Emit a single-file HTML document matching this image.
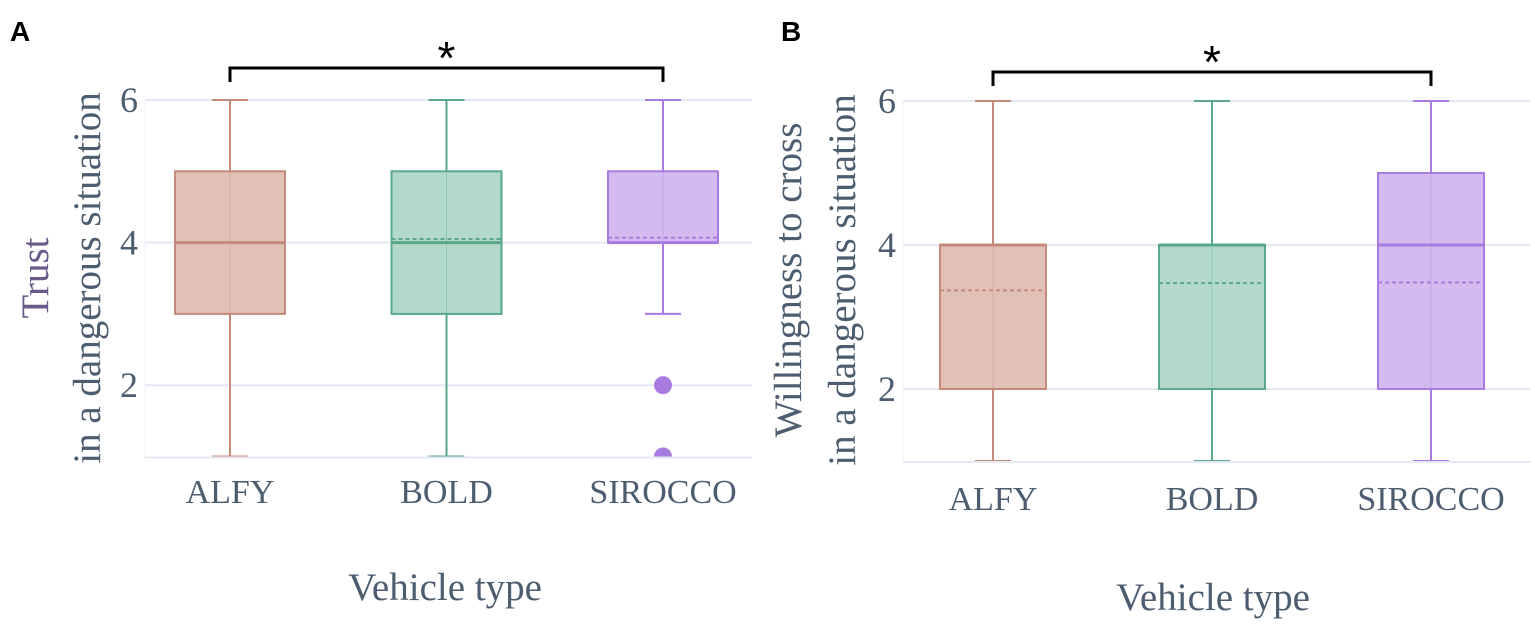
<!DOCTYPE html>
<html><head><meta charset="utf-8"><style>
body{margin:0;background:#fff;}
svg{display:block;font-family:"Liberation Serif",serif;}
</style></head><body>
<svg id="c" width="1535" height="630" viewBox="0 0 1535 630"></svg>
<script>
const categories = ["ALFY","BOLD","SIROCCO"];
const yTicks = [2,4,6];
// panel A: Trust
const aMin = [1,1,3];
const aQ1 = [3,3,4];
const aMedian = [4,4,4];
const aQ3 = [5,5,5];
const aMax = [6,6,6];
const aMean = [4.0,4.05,4.07];
const aOutliers = [[],[],[2,1]];
// panel B: Willingness
const bMin = [1,1,1];
const bQ1 = [2,2,2];
const bMedian = [4,4,4];
const bQ3 = [4,4,5];
const bMax = [6,6,6];
const bMean = [3.37,3.47,3.48];
const bOutliers = [[],[],[]];

const fills=["rgba(196,130,112,0.5)","rgba(96,176,146,0.48)","rgba(168,120,226,0.5)"];
const strokes=["#c48a7a","#5aa88a","#a77be0"];
const NS="http://www.w3.org/2000/svg";
const svg=document.getElementById('c');
function mk(tag,attrs,parent,text){const e=document.createElementNS(NS,tag);for(const k in attrs)e.setAttribute(k,attrs[k]);if(text!==undefined)e.textContent=text;(parent||svg).appendChild(e);return e;}

function panel(p){
  const g=mk('g',{});
  
  
  const y=v=>p.y6+(6-v)*p.ppu;
  const x=i=>p.cx0+i*p.step;
  const clipId=p.name+'-clip';
  const cp=mk('clipPath',{id:clipId},g);
  mk('rect',{x:p.left,y:p.y6-15,width:p.right-p.left,height:y(1)-p.y6+15},cp);
  yTicks.forEach(t=>{
    const l=mk('line',{x1:p.left,x2:p.right,y1:y(t),y2:y(t),stroke:"#e4e8f2","stroke-width":2},g);
    
    
    const tx=mk('text',{x:p.tickX,y:y(t)+12,"text-anchor":"end","font-size":36,fill:"#4c5d70"},g,String(t));
    
    
  });
  const base=mk('line',{x1:p.left,x2:p.right,y1:y(1)+1,y2:y(1)+1,stroke:"#e4e8f2","stroke-width":2},g);
  
  
  const vax=mk('line',{x1:p.left,x2:p.left,y1:p.y6,y2:y(1)+1,stroke:"#eef0f6","stroke-width":1},g);
  
  
  categories.forEach((c,i)=>{
    const bg=mk('g',{"clip-path":"url(#"+clipId+")"},g);
    
    
    const cx=x(i), hw=p.bw/2, cap=18;
    mk('line',{x1:cx,x2:cx,y1:y(p.max[i]),y2:y(p.q3[i]),stroke:strokes[i],"stroke-width":2},bg);
    mk('line',{x1:cx,x2:cx,y1:y(p.q1[i]),y2:y(p.min[i]),stroke:strokes[i],"stroke-width":2},bg);
    mk('line',{x1:cx-cap,x2:cx+cap,y1:y(p.max[i]),y2:y(p.max[i]),stroke:strokes[i],"stroke-width":2},bg);
    mk('line',{x1:cx-cap,x2:cx+cap,y1:y(p.min[i]),y2:y(p.min[i]),stroke:strokes[i],"stroke-width":2},bg);
    mk('rect',{x:cx-hw,y:y(p.q3[i]),width:p.bw,height:y(p.q1[i])-y(p.q3[i]),fill:fills[i],stroke:strokes[i],"stroke-width":2},bg);
    mk('line',{x1:cx,x2:cx,y1:y(p.q3[i]),y2:y(p.q1[i]),stroke:strokes[i],"stroke-width":1,opacity:0.35},bg);
    mk('line',{x1:cx-hw,x2:cx+hw,y1:y(p.med[i]),y2:y(p.med[i]),stroke:strokes[i],"stroke-width":3},bg);
    mk('line',{x1:cx-hw,x2:cx+hw,y1:y(p.mean[i]),y2:y(p.mean[i]),stroke:strokes[i],"stroke-width":2,"stroke-dasharray":"4,3"},bg);
    p.out[i].forEach(o=>{
      const d=mk('circle',{cx:cx,cy:y(o),r:9,fill:strokes[i]},bg);
      
      
    });
    const t=mk('text',{x:cx,y:p.catY,"text-anchor":"middle","font-size":34,fill:"#4c5d70"},g,c);
    
    
  });
  p.titles.forEach((tt,j)=>{
    const t=mk('text',{transform:`translate(${p.titleX[j]},${p.titleY}) rotate(-90)`,"text-anchor":"middle","font-size":39,fill:j===0&&p.name==='panel-a'?"#6a5a8a":"#4c5d70"},g,tt);
    
    
  });
  const xt=mk('text',{x:p.xtX,y:p.xtY,"text-anchor":"middle","font-size":39,fill:"#4c5d70"},g,"Vehicle type");
  
  
  const br=mk('path',{d:`M${x(0)},${p.brY+14}V${p.brY}H${x(2)}V${p.brY+14}`,fill:"none",stroke:"#000","stroke-width":3},g);
  
  
  const st=mk('text',{x:(x(0)+x(2))/2,y:p.brY+6,"text-anchor":"middle","font-size":46,"font-family":"Liberation Sans,sans-serif",fill:"#000"},g,"*");
  
  
  const lb=mk('text',{x:p.labX,y:41,"font-size":28,"font-weight":"bold","font-family":"Liberation Sans,sans-serif",fill:"#000"},g,p.label);
  
  
}
panel({name:'panel-a',label:'A',labX:10,y6:100,ppu:71.3,left:145,right:752,cx0:230,step:216.5,bw:110,
  min:aMin,q1:aQ1,med:aMedian,q3:aQ3,max:aMax,mean:aMean,out:aOutliers,
  tickX:138,catY:503,titles:["Trust","in a dangerous situation"],titleX:[48,100],titleY:278,xtX:445,xtY:600,brY:68});
panel({name:'panel-b',label:'B',labX:781,y6:101,ppu:72,left:903,right:1530,cx0:993,step:219,bw:106,
  min:bMin,q1:bQ1,med:bMedian,q3:bQ3,max:bMax,mean:bMean,out:bOutliers,
  tickX:896,catY:510,titles:["Willingness to cross","in a dangerous situation"],titleX:[801,855],titleY:280,xtX:1213,xtY:610,brY:72});
</script>
</body></html>
